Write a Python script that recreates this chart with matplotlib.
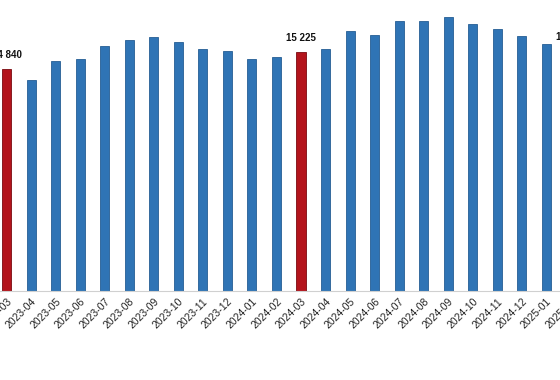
import matplotlib
matplotlib.use("Agg")
import matplotlib.pyplot as plt

months = ["2023-03", "2023-04", "2023-05", "2023-06", "2023-07", "2023-08",
          "2023-09", "2023-10", "2023-11", "2023-12", "2024-01", "2024-02",
          "2024-03", "2024-04", "2024-05", "2024-06", "2024-07", "2024-08",
          "2024-09", "2024-10", "2024-11", "2024-12", "2025-01", "2025-02"]
values = [14840, 14611, 15015, 15065, 15355, 15479,
          15549, 15424, 15285, 15241, 15062, 15106,
          15225, 15285, 15669, 15595, 15900, 15889,
          15970, 15830, 15719, 15558, 15396, 15250]
highlight = ["2023-03", "2024-03", "2025-02"]

BLUE = "#2F74B5"
RED = "#B3141C"
FONT = ["Liberation Sans Narrow", "Liberation Sans"]

fig = plt.figure(figsize=(5.6, 3.8), dpi=100)
ax = fig.add_axes([0, 0.2342, 1, 0.7658])

x = list(range(len(months)))
colors = [RED if m in highlight else BLUE for m in months]
edges = ["#7A0A10" if m in highlight else "#255E94" for m in months]
ax.bar(x, values, width=0.37, color=colors, edgecolor=edges, linewidth=0.6,
       zorder=2)

for xi, m, v in zip(x, months, values):
    if m in highlight:
        ax.text(xi, v + 190, f"{v:,}".replace(",", " "), ha="center",
                va="bottom", fontsize=7, fontweight="bold", family=FONT,
                color="#111111", clip_on=False)

ax.set_xticks(x)
ax.set_xticklabels(months, rotation=45, ha="right", rotation_mode="anchor",
                   fontsize=7.5, family=FONT, color="#222222")
ax.set_xlim(-0.265, 22.555)
ax.set_ylim(10000, 16350)
ax.tick_params(axis="x", length=0, pad=4)
ax.set_yticks([])

# labels of months lying just past the right edge of the view (cut by the frame)
xmin, xmax = ax.get_xlim()
for xi, m in zip(x, months):
    if xi > xmax:
        ax.annotate(m, xy=(xi, 0), xycoords=ax.get_xaxis_transform(),
                    xytext=(0, -4), textcoords="offset points",
                    rotation=45, ha="right", va="top", rotation_mode="anchor",
                    fontsize=7.5, family=FONT, color="#222222",
                    annotation_clip=False)

for s in ["left", "right", "top"]:
    ax.spines[s].set_visible(False)
ax.spines["bottom"].set_color("#D0D0D0")
ax.spines["bottom"].set_linewidth(0.8)

fig.savefig("out.png", dpi=100)
